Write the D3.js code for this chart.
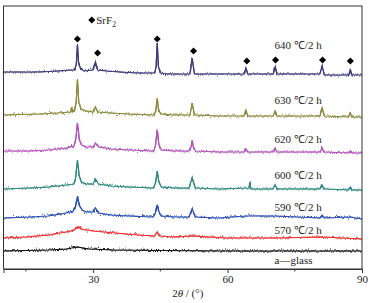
<!DOCTYPE html>
<html>
<head>
<meta charset="utf-8">
<script src="https://cdn.jsdelivr.net/npm/d3@7"></script>
<style>
body { margin: 0; background: #fff; }
text { font-family: "Liberation Serif", "Times New Roman", serif; fill: #222; }
</style>
</head>
<body>
<div id="chart"></div>
<script>
// XRD patterns, intensity in a.u. (stacked, offset already included)
var glass = [[10,18],[20,19],[24,20],[26.5,22],[29,20],[35,19],[45,18.5],[60,18],[90,18]];
var t570 = [[10,31],[15,32],[20,34],[24,37],[25.8,39],[26.5,42],[27.3,40],[30,38],[35,36],[40,34],[43.7,33],[44.3,37],[44.9,33],[48,32],[52.1,33],[60,31],[70,31],[81.1,32],[90,30]];
var t590 = [[10,51],[16,52],[20,53],[24,56],[25.6,58],[26.1,63],[26.5,73],[26.9,64],[27.5,59],[28.5,57],[30,57],[30.5,61],[31.2,56],[34,54],[38,53],[43.4,52],[43.9,56],[44.3,64],[44.7,57],[45.3,53],[48,52],[51.4,52],[52.1,60],[52.8,52],[58,51],[64.1,53],[70.6,53],[80.6,51],[81.1,54],[81.6,51],[87.4,52],[90,50]];
var t600 = [[10,80],[16,81],[20,82],[24,84],[25.7,85],[26.1,91],[26.5,109],[26.9,93],[27.4,87],[28.5,85],[30,85],[30.5,90],[31.2,85],[34,83],[38,82],[43.5,81],[43.9,86],[44.3,98],[44.7,87],[45.2,82],[48,81],[51.4,81],[52.1,91],[52.8,81],[58,80],[64.8,81],[65,87],[65.2,80],[70.1,80],[70.6,84],[71.1,80],[80.6,80],[81.1,84],[81.6,80],[87,79],[87.4,82],[87.8,79],[90,79]];
var t620 = [[10,118],[16,118],[20,119],[24,121],[25.7,123],[26.1,129],[26.5,146],[26.9,130],[27.4,124],[28.5,122],[30,122],[30.5,126],[31.2,122],[34,120],[38,119],[43.5,118],[43.9,123],[44.3,139],[44.7,124],[45.2,119],[48,118],[51.4,118],[51.8,121],[52.1,129],[52.4,121],[52.9,118],[58,117],[63.7,117],[64.1,120],[64.5,117],[70.2,117],[70.6,121],[71,117],[80.6,117],[81.1,121],[81.6,117],[87,116],[87.4,118],[87.8,116],[90,116]];
var t630 = [[10,154],[18,155],[22,156],[25,157],[25.2,162],[25.4,157],[25.8,158],[26.2,166],[26.5,189],[26.8,167],[27.3,160],[28.5,158],[30,157],[30.5,162],[31,157],[34,156],[38,155],[43.6,154],[44,159],[44.3,171],[44.6,159],[45.1,155],[48,154],[51.6,154],[52.1,166],[52.6,154],[58,153],[63.7,153],[64.1,159],[64.5,153],[70.2,153],[70.6,158],[71,153],[80.6,153],[81.1,161],[81.6,153],[87,152],[87.4,156],[87.8,152],[90,152]];
var t640 = [[10,197],[14,197],[18,197],[22,198],[25,199],[25.9,199],[26.25,205],[26.5,224],[26.75,206],[27.2,200],[28,198],[30,199],[30.5,207],[31,199],[33,198],[36,197],[40,196],[43.7,196],[44.05,202],[44.3,226],[44.55,203],[45,196],[47,195],[51.6,195],[52.1,211],[52.6,195],[56,195],[60,195],[63.7,195],[64.1,201],[64.5,195],[68,195],[70.2,195],[70.6,202],[71,195],[75,195],[80.6,195],[81.1,203],[81.6,194],[85,194],[87,194],[87.4,199],[87.8,194],[90,194]];

var seriesNames = ["a\u2014glass", "570 \u2103/2 h", "590 \u2103/2 h", "600 \u2103/2 h", "620 \u2103/2 h", "630 \u2103/2 h", "640 \u2103/2 h"];
var seriesData = [glass, t570, t590, t600, t620, t630, t640];
var seriesColors = ["#111111", "#f03030", "#2b50b5", "#2e8a7f", "#b552bd", "#8c8a3c", "#3d3c7e"];
var labelLevels = [5, 35, 58, 90, 126, 165, 220];

// SrF2 reflections marked with diamonds
var markAngles = [26.5, 31.0, 44.3, 52.4, 64.3, 70.7, 81.2, 87.4];
var markLevels = [230, 216, 230, 218, 208, 209, 209, 208];

var majorTicks = [30, 60, 90];
var minorTicks = [15, 45, 75];

var margin = {top: 6, left: 3.5, right: 15, bottom: 34};
var width = 377 - margin.left - margin.right;
var height = 303 - margin.top - margin.bottom;

var svg = d3.select("#chart").append("svg")
    .attr("width", 377)
    .attr("height", 303);

// measurement noise look of the traces (purely a stroke style)
var defs = svg.append("defs");
var filt = defs.append("filter")
    .attr("id", "noisy")
    .attr("filterUnits", "userSpaceOnUse")
    .attr("x", 0).attr("y", 0).attr("width", 377).attr("height", 303)
    .attr("color-interpolation-filters", "sRGB");
filt.append("feTurbulence")
    .attr("type", "fractalNoise")
    .attr("baseFrequency", "1.4 0.06")
    .attr("numOctaves", 2)
    .attr("seed", 3)
    .attr("result", "turb");
filt.append("feColorMatrix")
    .attr("in", "turb")
    .attr("type", "matrix")
    .attr("values", "0 0 0 0 0.5  0 1 0 0 0  0 0 1 0 0  0 0 0 0 1")
    .attr("result", "disp");
filt.append("feDisplacementMap")
    .attr("in", "SourceGraphic")
    .attr("in2", "disp")
    .attr("scale", 6)
    .attr("xChannelSelector", "R")
    .attr("yChannelSelector", "G")
    .attr("result", "moved");
filt.append("feMerge").call(m => {
    m.append("feMergeNode").attr("in", "moved");
    m.append("feMergeNode").attr("in", "SourceGraphic");
});

var g = svg.append("g")
    .attr("transform", "translate(" + margin.left + "," + margin.top + ")");

var x = d3.scaleLinear().domain([10, 90]).range([0, width]);
var y = d3.scaleLinear().domain([0, 263]).range([height, 0]);

var line = d3.line()
    .x(d => x(d[0]))
    .y(d => y(d[1]));

g.selectAll(".pattern")
    .data(seriesData)
    .enter()
    .append("path")
    .attr("class", "pattern")
    .attr("d", line)
    .attr("fill", "none")
    .attr("stroke", (d, i) => seriesColors[i])
    .attr("stroke-width", 1.2)
    .attr("filter", "url(#noisy)");

g.selectAll(".slabel")
    .data(seriesNames)
    .enter()
    .append("text")
    .attr("class", "slabel")
    .attr("x", x(70.5))
    .attr("y", (d, i) => y(labelLevels[i]))
    .attr("font-size", 11)
    .text(d => d);

var diamond = d3.symbol().type(d3.symbolDiamond2).size(32);
g.selectAll(".mark")
    .data(markAngles)
    .enter()
    .append("path")
    .attr("class", "mark")
    .attr("transform", (d, i) => "translate(" + x(d) + "," + y(markLevels[i]) + ")")
    .attr("d", diamond)
    .attr("fill", "#000");

// legend
g.append("path")
    .attr("transform", "translate(" + x(29.7) + "," + y(249) + ")")
    .attr("d", diamond)
    .attr("fill", "#000");
var leg = g.append("text")
    .attr("x", x(30.7))
    .attr("y", y(245))
    .attr("font-size", 11);
leg.append("tspan").text("SrF");
leg.append("tspan").attr("dy", 3).attr("font-size", 7.5).text("2");

// frame
g.append("rect")
    .attr("width", width)
    .attr("height", height)
    .attr("fill", "none")
    .attr("stroke", "#333")
    .attr("stroke-width", 1);

var xAxis = d3.axisBottom(x).tickValues(majorTicks).tickSize(4).tickPadding(2);
var xa = g.append("g")
    .attr("class", "x-axis")
    .attr("transform", "translate(0," + height + ")")
    .call(xAxis);
xa.select(".domain").attr("stroke", "#333");
xa.selectAll("line").attr("stroke", "#333");
xa.selectAll("text")
    .attr("font-size", 11)
    .attr("font-family", "Liberation Serif, serif")
    .attr("fill", "#222");

g.append("g")
    .attr("transform", "translate(0," + height + ")")
    .selectAll("line")
    .data(minorTicks)
    .enter()
    .append("line")
    .attr("x1", d => x(d)).attr("x2", d => x(d))
    .attr("y1", 0).attr("y2", 2.5)
    .attr("stroke", "#333");

var title = g.append("text")
    .attr("x", width / 2 + 5)
    .attr("y", height + 28)
    .attr("text-anchor", "middle")
    .attr("font-size", 11);
title.append("tspan").text("2");
title.append("tspan").attr("font-style", "italic").text("\u03b8");
title.append("tspan").text(" / (\u00b0)");
</script>
</body>
</html>
